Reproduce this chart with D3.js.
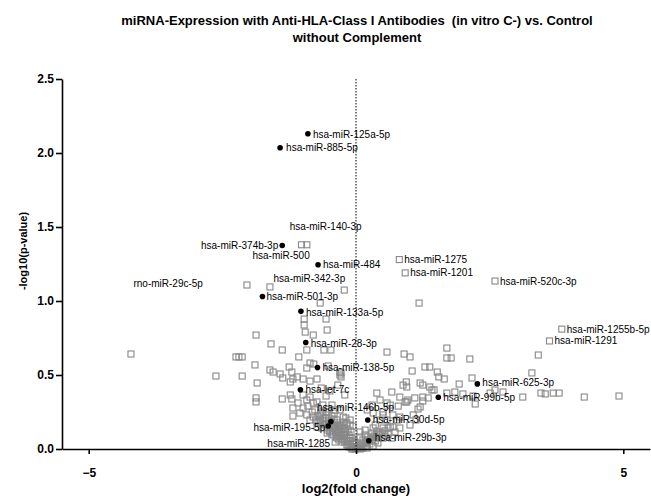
<!DOCTYPE html>
<html><head><meta charset="utf-8">
<script src="https://cdn.jsdelivr.net/npm/d3@7"></script>
<style>
body{margin:0;background:#fff;}
svg{font-family:"Liberation Sans",Arial,Helvetica,sans-serif;}
</style></head>
<body><svg id="c" width="651" height="496"></svg>
<script>
// ---------- DATA ----------
const titleLines = ["miRNA-Expression with Anti-HLA-Class I Antibodies  (in vitro C-) vs. Control", "without Complement"];
const xTicks = [-5, 0, 5];
const yTicks = [0, 0.5, 1.0, 1.5, 2.0, 2.5];

// highlighted miRNAs (black dots)
const sigNames = ["hsa-miR-125a-5p","hsa-miR-885-5p","hsa-miR-374b-3p","hsa-miR-484","hsa-miR-501-3p","hsa-miR-133a-5p","hsa-miR-28-3p","hsa-miR-138-5p","hsa-let-7c","hsa-miR-146b-5p","hsa-miR-195-5p","hsa-miR-30d-5p","hsa-miR-29b-3p","hsa-miR-99b-5p","hsa-miR-625-3p"];
const sigLog2FC = [-0.90,-1.42,-1.38,-0.71,-1.75,-1.03,-0.94,-0.72,-1.04,-0.47,-0.52,0.22,0.24,1.54,2.27];
const sigNegLogP = [2.13,2.035,1.375,1.245,1.03,0.93,0.72,0.55,0.40,0.185,0.155,0.196,0.056,0.35,0.44];

// labelled miRNAs among the other (grey) ones
const lblNames = ["hsa-miR-1275","hsa-miR-1201","hsa-miR-520c-3p","hsa-miR-1255b-5p","hsa-miR-1291","hsa-miR-140-3p","hsa-miR-500","hsa-miR-342-3p","rno-miR-29c-5p","hsa-miR-1285"];
const lblLog2FC = [0.81,0.92,2.60,3.85,3.62,-0.92,-1.02,-0.22,-2.04,-0.39];
const lblNegLogP = [1.28,1.19,1.135,0.81,0.73,1.38,1.38,1.074,1.108,0.047];

// all other miRNAs (grey squares): [log2 fold change, -log10 p]
const otherPoints = [
[-1.61,1.095],[1.18,0.986],[-0.67,0.986],
[-0.97,0.878],[-0.56,0.878],[-0.97,0.838],[-0.95,0.79],[-0.80,0.77],[-0.54,0.804],[-1.87,0.77],
[-1.59,0.71],[-1.38,0.669],[-4.21,0.642],[-2.245,0.622],[-2.19,0.622],[-2.13,0.622],[-1.07,0.622],
[-0.92,0.669],[-0.60,0.669],[-0.47,0.669],[-1.89,0.568],[-2.62,0.493],[-2.13,0.493],[-1.61,0.534],
[-1.55,0.52],[-1.42,0.507],[-1.25,0.554],[-1.20,0.52],[-1.10,0.487],[-0.92,0.547],[-0.86,0.581],
[-0.79,0.574],[-0.52,0.561],[-0.28,0.514],[-0.28,0.487],[-1.85,0.446],[-1.87,0.345],[-1.87,0.318],
[-1.37,0.48],[-1.23,0.453],[-1.18,0.473],[-0.99,0.473],[-0.86,0.459],[-0.73,0.473],[-1.38,0.338],
[-1.20,0.338],[-1.18,0.277],[-1.085,0.311],[-0.99,0.277],[-0.90,0.29],[-0.82,0.25],[-0.80,0.216],
[-0.67,0.196],[-0.73,0.149],[-0.64,0.142],[-0.54,0.128],[-0.43,0.142],[-0.30,0.162],[-0.24,0.182],
[-0.17,0.176],[-0.45,0.095],[-0.355,0.074],[-0.26,0.047],[-0.17,0.027],[-0.075,0.007],[-0.34,0.108],
[-0.99,0.365],[-0.92,0.331],[-0.86,0.351],[-0.80,0.311],[-0.73,0.318],[-0.62,0.297],[-0.62,0.25],
[-0.45,0.297],[-0.39,0.264],[-0.24,0.216],[-0.11,0.162],[-0.355,0.196],[-1.18,0.223],[-1.05,0.243],
[-0.92,0.23],[-0.86,0.196],[-0.71,0.182],[-1.23,0.365],[-0.30,0.50],[-0.30,0.52],
[-0.58,0.162],[-0.49,0.115],[-0.39,0.142],[-0.21,0.115],[-0.11,0.074],[-0.22,0.061],[-0.30,0.088],
[-0.15,0.128],[-0.04,0.034],[0.02,0.014],[-0.52,0.196],[-0.45,0.223],[-0.56,0.25],[-0.77,0.264],[-0.67,0.23],
[-0.65,0.412],[-0.49,0.392],[-0.21,0.365],[-0.34,0.432],[-0.56,0.358],
[-0.56,0.209],[-0.505,0.189],[-0.45,0.169],[-0.39,0.155],[-0.34,0.135],[-0.28,0.115],[-0.22,0.095],
[-0.17,0.074],[-0.11,0.054],[-0.056,0.034],[0.0,0.014],[-0.49,0.149],[-0.43,0.128],[-0.37,0.108],
[-0.32,0.088],[-0.26,0.068],[-0.21,0.047],[-0.15,0.027],[-0.094,0.014],[-0.60,0.169],[-0.54,0.142],
[-0.67,0.176],[-0.41,0.196],[-0.30,0.155],[-0.24,0.135],[-0.19,0.115],[-0.13,0.095],[-0.075,0.074],
[-0.037,0.054],[0.0,0.003],
[-0.62,0.189],[-0.56,0.169],[-0.505,0.209],[-0.47,0.182],[-0.41,0.162],[-0.355,0.176],[-0.32,0.149],
[-0.26,0.162],[-0.21,0.142],[-0.28,0.095],[-0.22,0.074],[-0.17,0.054],[-0.11,0.034],[-0.056,0.014],
[-0.37,0.081],[-0.32,0.061],[-0.13,0.014],[-0.075,0.0],[-0.02,0.0],[-0.43,0.101],[-0.49,0.122],
[-0.54,0.108],[-0.71,0.223],[-0.65,0.243],[-0.75,0.196],[-0.52,0.27],[-0.41,0.243],[-0.30,0.264],
[-0.19,0.209],[-0.094,0.115],[-0.11,0.196],[-0.056,0.155],
[0.58,0.655],[0.90,0.642],[1.01,0.622],[1.70,0.682],[1.70,0.615],[1.78,0.615],[2.13,0.608],[3.41,0.635],
[3.29,0.514],[1.05,0.527],[1.29,0.554],[1.38,0.554],[1.52,0.52],[1.55,0.487],[0.94,0.453],[0.95,0.419],
[1.25,0.432],[1.38,0.419],[1.42,0.399],[1.46,0.399],[1.93,0.439],[2.17,0.48],[0.67,0.385],[0.82,0.351],
[0.95,0.318],[1.10,0.345],[1.25,0.351],[1.35,0.345],[1.70,0.378],[1.85,0.385],[2.00,0.372],[2.23,0.304],
[2.19,0.358],[2.51,0.378],[2.60,0.399],[2.75,0.385],[3.12,0.351],[3.46,0.378],[3.54,0.372],[3.69,0.378],
[3.80,0.378],[4.27,0.351],[4.92,0.358],[0.58,0.311],[0.79,0.29],[0.92,0.318],[1.16,0.27],[1.20,0.284],
[0.505,0.25],[0.69,0.23],[0.58,0.196],[0.69,0.149],[0.77,0.196],[0.82,0.216],[1.07,0.23],[1.25,0.324],
[1.65,0.473],[1.20,0.446],[0.88,0.432],[0.39,0.378],[0.45,0.331],[0.64,0.297],[0.97,0.331],[0.30,0.297],
[0.21,0.264],[0.32,0.243],[0.505,0.23],[0.32,0.142],[0.17,0.128],[0.075,0.115],[0.39,0.115],[0.505,0.142],
[0.64,0.149],[0.075,0.081],[0.17,0.095],[0.30,0.108],[-0.02,0.047],
[0.075,0.027],[0.13,0.061],[0.22,0.081],[0.36,0.162],[0.45,0.196],[0.54,0.088],[0.41,0.074],[0.73,0.115],
[0.82,0.142],[1.01,0.162],[1.12,0.196],
[0.056,0.02],[0.11,0.034],[0.17,0.047],[0.22,0.061],[0.28,0.074],[0.34,0.088],[0.39,0.101],[0.45,0.115],
[0.094,0.005],[0.19,0.02],[0.26,0.034],[0.36,0.054],[0.505,0.074],[0.60,0.101],[0.67,0.074],
[0.037,0.007],[0.075,0.0],[0.13,0.007],[0.19,0.041],[0.24,0.054],[0.30,0.061],[0.37,0.081],[0.43,0.095],
[0.49,0.108],[0.54,0.122],[0.32,0.02],[0.41,0.041],[0.21,0.007],[0.60,0.142]
];

// ---------- LAYOUT (label placement relative to point, in px) ----------
const sigLabelPos = [[5,1,"start"],[6,0,"start"],[-4,0,"end"],[5,0,"start"],[4,0,"start"],[5,1,"start"],[5,1,"start"],[5,0,"start"],[5,0,"start"],[-14,-14,"start"],[-3,1,"end"],[5,0,"start"],[6,-3,"start"],[5,0,"start"],[5,-1,"start"]];
const lblLabelPos = [[5,0,"start"],[5,0,"start"],[5,0,"start"],[5,0,"start"],[5,0,"start"],[-17,-18,"start"],[-49,11,"start"],[1,-12,"end"],[-44,-2,"end"],[-5,1,"end"]];

const svg = d3.select("#c");
const x = d3.scaleLinear().domain([-5.5, 5.5]).range([62, 650]);
const y = d3.scaleLinear().domain([0, 2.5]).range([449, 79]);

// title
svg.append("g").selectAll("text").data(titleLines).join("text")
  .attr("x", 357).attr("y", (d,i) => 20 + i*17).attr("dy","0.35em")
  .attr("text-anchor","middle").attr("font-size",13).attr("font-weight","bold")
  .style("white-space","pre").text(d => d);

// grey squares
const sq = 6;
const greyAll = otherPoints.concat(lblLog2FC.map((v,i)=>[v,lblNegLogP[i]]));
svg.append("g").selectAll("rect").data(greyAll).join("rect")
  .attr("x", d => x(d[0]) - sq/2).attr("y", d => y(d[1]) - sq/2)
  .attr("width", sq).attr("height", sq)
  .attr("fill","none").attr("stroke","#888").attr("stroke-width",1.1);

// black dots
svg.append("g").selectAll("circle").data(sigNames).join("circle")
  .attr("cx", (d,i) => x(sigLog2FC[i])).attr("cy", (d,i) => y(sigNegLogP[i]))
  .attr("r", 2.8).attr("fill","#000");

// labels
const lg = svg.append("g").attr("font-size",10).attr("fill","#000");
lg.selectAll("text.s").data(sigNames).join("text").attr("class","s")
  .attr("x",(d,i)=>x(sigLog2FC[i]) + sigLabelPos[i][0])
  .attr("y",(d,i)=>y(sigNegLogP[i]) + sigLabelPos[i][1])
  .attr("dy","0.35em").attr("text-anchor",(d,i)=>sigLabelPos[i][2]).text(d=>d);
lg.selectAll("text.l").data(lblNames).join("text").attr("class","l")
  .attr("x",(d,i)=>x(lblLog2FC[i]) + lblLabelPos[i][0])
  .attr("y",(d,i)=>y(lblNegLogP[i]) + lblLabelPos[i][1])
  .attr("dy","0.35em").attr("text-anchor",(d,i)=>lblLabelPos[i][2]).text(d=>d);

// dotted zero line
svg.append("line").attr("x1",x(0)).attr("x2",x(0)).attr("y1",y(2.5)).attr("y2",y(0))
  .attr("stroke","#000").attr("stroke-width",1).attr("stroke-dasharray","1.5,1.5");

// axes
const yAxis = svg.append("g").attr("transform","translate(62,0)")
  .call(d3.axisLeft(y).tickValues(yTicks).tickFormat(d3.format(".1f")).tickSize(6).tickSizeOuter(0).tickPadding(2));
const xAxis = svg.append("g").attr("transform","translate(0,449)")
  .call(d3.axisBottom(x).tickValues(xTicks).tickFormat(d3.format("d")).tickSize(5).tickSizeOuter(0).tickPadding(14));
[yAxis, xAxis].forEach(a => {
  a.selectAll("path,line").attr("stroke","#000").attr("stroke-width",1.6);
  a.selectAll("text").attr("font-size",12).attr("font-weight","bold").attr("fill","#000")
   .attr("font-family","'Liberation Sans',Arial,sans-serif");
});

// axis titles
svg.append("text").attr("x",356).attr("y",488).attr("dy","0.35em").attr("text-anchor","middle")
  .attr("font-size",13).attr("font-weight","bold").text("log2(fold change)");
svg.append("text").attr("transform","translate(23,251) rotate(-90)").attr("dy","0.35em")
  .attr("text-anchor","middle").attr("font-size",11).attr("font-weight","bold").text("-log10(p-value)");
</script></body></html>
